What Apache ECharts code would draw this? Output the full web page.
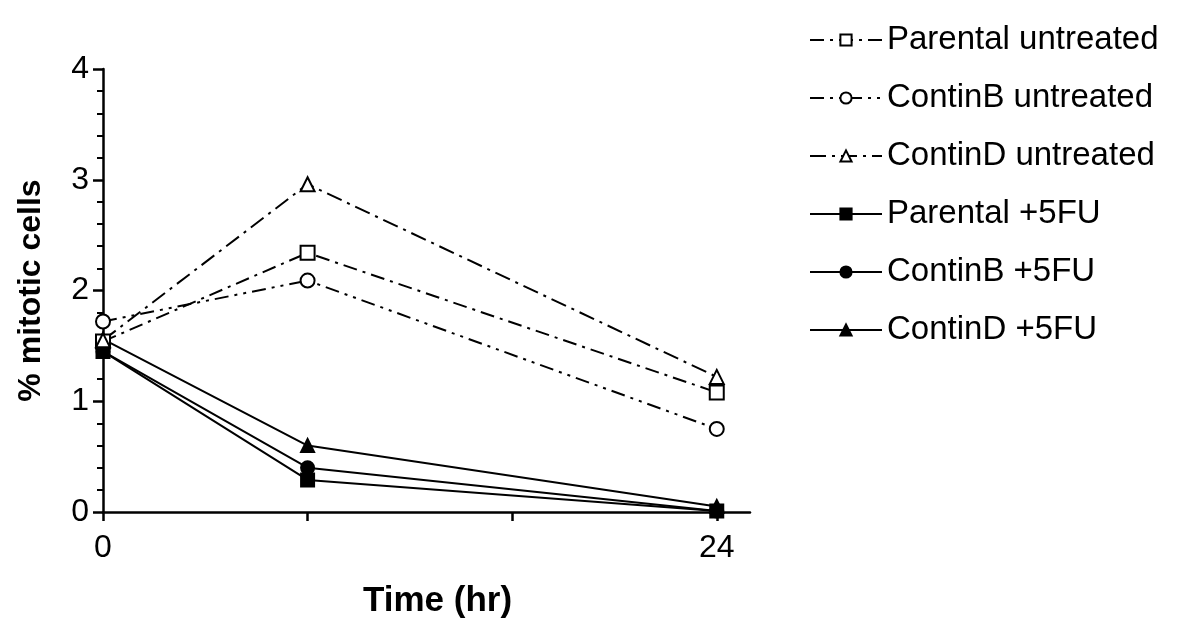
<!DOCTYPE html>
<html><head><meta charset="utf-8">
<script src="https://cdn.jsdelivr.net/npm/echarts@6/dist/echarts.min.js"></script>
<style>html,body{margin:0;padding:0;background:#fff}#c{width:1200px;height:633px}</style>
</head><body><div id="c"></div>
<script>
const times = [0, 8, 24];
const xTickLabels = [0, 24];
const seriesNames = ['Parental untreated','ContinB untreated','ContinD untreated','Parental +5FU','ContinB +5FU','ContinD +5FU'];
const parentalUntreated = [1.54, 2.34, 1.08];
const continBUntreated = [1.72, 2.09, 0.75];
const continDUntreated = [1.55, 2.96, 1.22];
const parental5FU = [1.45, 0.29, 0.01];
const continB5FU = [1.45, 0.40, 0.01];
const continD5FU = [1.56, 0.60, 0.05];

const values = [parentalUntreated, continBUntreated, continDUntreated, parental5FU, continB5FU, continD5FU];
const symbols = ['rect','circle','triangle','rect','circle','triangle'];
const dashes = [[14,6,3,6],[14,6,3,6,3,6],[16,6,3,6],'solid','solid','solid'];

const series = values.map((v, i) => ({
  name: seriesNames[i],
  type: 'line',
  data: v.map((y, j) => [times[j], y]),
  symbol: symbols[i],
  symbolSize: i < 3 ? 14 : 13,
  showSymbol: true,
  z: i < 3 ? 3 : 2,
  lineStyle: {color: '#000', width: 2, type: dashes[i]},
  itemStyle: {color: i < 3 ? '#fff' : '#000', borderColor: '#000', borderWidth: 2},
  emphasis: {disabled: true},
  animation: false
}));

const chart = echarts.init(document.getElementById('c'));
chart.setOption({
  backgroundColor: '#fff',
  animation: false,
  textStyle: {fontFamily: 'Liberation Sans, Arial, sans-serif'},
  grid: {left: 103, right: 450, top: 69, bottom: 121},
  legend: {
    orient: 'vertical', left: 804, top: 18,
    itemWidth: 72, itemHeight: 14, itemGap: 24,
    textStyle: {fontSize: 33, color: '#000', fontFamily: 'Liberation Sans, Arial, sans-serif', lineHeight: 34},
    data: seriesNames
  },
  xAxis: {
    type: 'value', min: 0, max: 25.3, interval: 8,
    name: 'Time (hr)', nameLocation: 'middle', nameGap: 72,
    nameTextStyle: {fontSize: 35, fontWeight: 'bold', color: '#000', padding: [0, 0, 0, 22]},
    axisLine: {lineStyle: {color: '#000', width: 2.5}},
    axisTick: {length: 9, lineStyle: {color: '#000', width: 2.5}},
    axisLabel: {fontSize: 32, color: '#000', margin: 20, showMaxLabel: false,
      formatter: v => xTickLabels.includes(v) ? String(v) : ''},
    splitLine: {show: false}
  },
  yAxis: {
    type: 'value', min: 0, max: 4, interval: 1,
    name: '% mitotic cells', nameLocation: 'middle', nameGap: 56,
    nameTextStyle: {fontSize: 32, fontWeight: 'bold', color: '#000'},
    axisLine: {show: true, lineStyle: {color: '#000', width: 2.5}},
    axisTick: {show: true, length: 10, lineStyle: {color: '#000', width: 2.5}},
    minorTick: {show: true, splitNumber: 5, length: 6, lineStyle: {color: '#000', width: 2}},
    axisLabel: {fontSize: 32, color: '#000', margin: 14},
    splitLine: {show: false}
  },
  series: series
});
</script></body></html>
